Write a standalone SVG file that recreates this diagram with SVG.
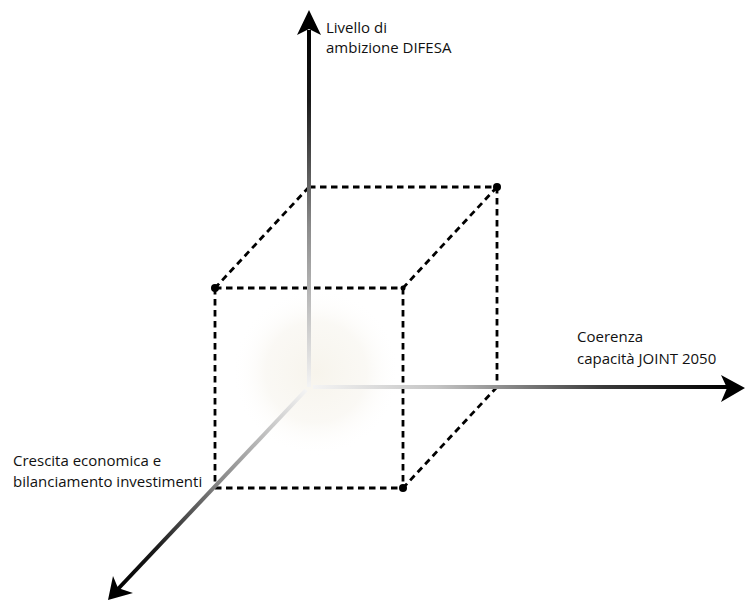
<svg xmlns="http://www.w3.org/2000/svg" width="748" height="601" viewBox="0 0 748 601">
<style>
.edge{stroke:#000;stroke-width:2.8;stroke-dasharray:6.5 4.5;fill:none}
.lbl{font-family:"Open Sans","Liberation Sans",sans-serif;font-size:15px;fill:#111}
.dot{fill:#000}
.head{fill:#000}
</style>
<defs>
<radialGradient id="glow" cx="316" cy="372" r="84" gradientUnits="userSpaceOnUse">
<stop offset="0" stop-color="#f7f4ec" stop-opacity="1"/>
<stop offset="0.6" stop-color="#f9f7f2" stop-opacity="0.8"/>
<stop offset="1" stop-color="#ffffff" stop-opacity="0"/>
</radialGradient>
<linearGradient id="gV" x1="309" y1="387" x2="309" y2="30" gradientUnits="userSpaceOnUse">
<stop offset="0" stop-color="#f4f4f4"/>
<stop offset="0.45" stop-color="#8a8a8a"/>
<stop offset="0.8" stop-color="#1a1a1a"/>
<stop offset="1" stop-color="#000"/>
</linearGradient>
<linearGradient id="gH" x1="313" y1="387" x2="728" y2="387" gradientUnits="userSpaceOnUse">
<stop offset="0" stop-color="#f4f4f4"/>
<stop offset="0.3" stop-color="#c4c4c4"/>
<stop offset="0.7" stop-color="#3a3a3a"/>
<stop offset="1" stop-color="#000"/>
</linearGradient>
<linearGradient id="gD" x1="306" y1="390" x2="118" y2="589" gradientUnits="userSpaceOnUse">
<stop offset="0" stop-color="#f4f4f4"/>
<stop offset="0.45" stop-color="#8a8a8a"/>
<stop offset="0.8" stop-color="#1a1a1a"/>
<stop offset="1" stop-color="#000"/>
</linearGradient>
</defs>
<rect width="748" height="601" fill="#fff"/>
<circle cx="316" cy="372" r="84" fill="url(#glow)"/>
<g id="connectors">
<line class="edge" x1="309" y1="187" x2="497" y2="187"/>
<line class="edge" x1="309" y1="187" x2="215" y2="288"/>
<line class="edge" x1="497" y1="187" x2="403" y2="288"/>
<line class="edge" x1="497" y1="187" x2="497" y2="387"/>
<line class="edge" x1="497" y1="387" x2="403" y2="488"/>
<line class="edge" x1="215" y1="288" x2="403" y2="288"/>
<line class="edge" x1="215" y1="288" x2="215" y2="488"/>
<line class="edge" x1="403" y1="288" x2="403" y2="488"/>
<line class="edge" x1="215" y1="488" x2="403" y2="488"/>
</g>
<g id="axis-vertical">
<line x1="309" y1="387" x2="309" y2="30" stroke="url(#gV)" stroke-width="4"/>
<polygon class="head" points="309,10 321,35 309,29 297,35"/>
</g>
<g id="axis-horizontal">
<line x1="313" y1="387" x2="728" y2="387" stroke="url(#gH)" stroke-width="4"/>
<polygon class="head" points="745,388 721,375 727,388 721,402"/>
</g>
<g id="axis-diagonal">
<line x1="306" y1="390" x2="118" y2="589" stroke="url(#gD)" stroke-width="4"/>
<polygon class="head" points="108,600 113,576 118,588 133,593"/>
</g>
<g id="corners">
<circle class="dot" cx="215" cy="288" r="4"/>
<circle class="dot" cx="497" cy="187" r="4"/>
<circle class="dot" cx="403" cy="288" r="2.5"/>
<circle class="dot" cx="403" cy="488" r="4"/>
</g>
<g id="label-difesa">
<text class="lbl" x="326" y="33">Livello di</text>
<text class="lbl" x="326" y="53">ambizione DIFESA</text>
</g>
<g id="label-joint">
<text class="lbl" x="577" y="342">Coerenza</text>
<text class="lbl" x="577" y="364">capacità JOINT 2050</text>
</g>
<g id="label-crescita">
<text class="lbl" x="13" y="466">Crescita economica e</text>
<text class="lbl" x="13" y="487">bilanciamento investimenti</text>
</g>
</svg>
